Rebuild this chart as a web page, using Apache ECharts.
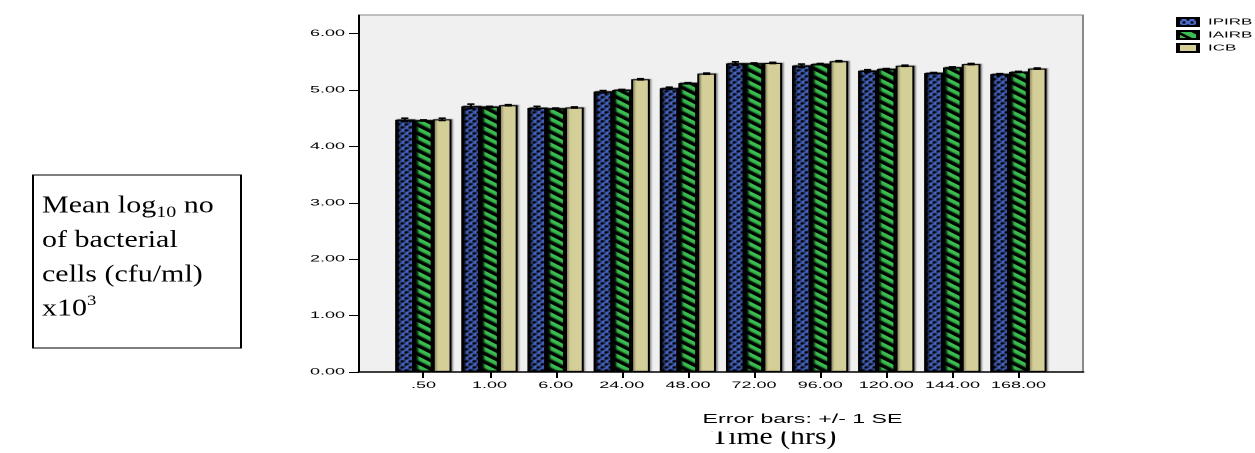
<!DOCTYPE html>
<html>
<head>
<meta charset="utf-8">
<script src="https://cdn.jsdelivr.net/npm/echarts@6.0.0/dist/echarts.min.js"></script>
<style>
  html, body { margin: 0; padding: 0; background: #ffffff; overflow: hidden; }
  #wrap { width: 1255px; height: 453px; overflow: hidden; position: relative; }
  #chart { width: 627.5px; height: 453px; transform: scaleX(2); transform-origin: 0 0; position: absolute; left: 0; top: 0; }
</style>
</head>
<body>
<div id="wrap"><div id="chart"></div></div>
<script>
// ---------------- data ----------------
const timeLabels = ['.50', '1.00', '6.00', '24.00', '48.00', '72.00', '96.00', '120.00', '144.00', '168.00'];
const seriesNames = ['IPIRB', 'IAIRB', 'ICB'];
const ipirb = [4.47, 4.71, 4.68, 4.97, 5.03, 5.47, 5.43, 5.34, 5.30, 5.28];
const iairb = [4.46, 4.70, 4.67, 5.00, 5.12, 5.47, 5.46, 5.37, 5.40, 5.32];
const icb   = [4.48, 4.73, 4.69, 5.19, 5.29, 5.48, 5.51, 5.43, 5.46, 5.38];
const ipirbSE = [0.03, 0.04, 0.03, 0.02, 0.02, 0.03, 0.03, 0.02, 0.01, 0.01];
const iairbSE = [0.01, 0.01, 0.01, 0.01, 0.01, 0.01, 0.01, 0.01, 0.01, 0.01];
const icbSE   = [0.02, 0.01, 0.01, 0.01, 0.01, 0.01, 0.01, 0.01, 0.01, 0.01];
const yTicks = [0, 1, 2, 3, 4, 5, 6];

// ---------------- layout helpers ----------------
const S = 2;                    // horizontal stretch applied via CSS
const X = v => v / S;           // reference px -> chart px (horizontal)
const BAR_W = X(18.7);
const SANS = '"Liberation Sans", Arial, sans-serif';
const SERIF = '"Liberation Serif", "Times New Roman", serif';

const values = [ipirb, iairb, icb];
const ses = [ipirbSE, iairbSE, icbSE];
const colors = ['#4a6acb', '#3abd50', '#d4ce99'];
const decals = [
  { symbol: 'rect', symbolSize: 0.72, color: '#000000', dashArrayX: [[2, 2], [0, 2, 2, 0]], dashArrayY: [3, 0, 3, 0], rotation: 0 },
  { symbol: 'rect', symbolSize: 1, color: '#000000', dashArrayX: [1, 0], dashArrayY: [1.25, 3.45], rotation: Math.PI / 4 },
  null
];

const measure = (() => {
  const c = document.createElement('canvas').getContext('2d');
  return (t, font) => { c.font = font; return c.measureText(t).width; };
})();

function txt(refX, refY, text, size, family, stretch, align, z) {
  return {
    type: 'text', x: X(refX), y: refY, scaleX: stretch / S, z: z || 10,
    style: {
      text: text, fontSize: size, fontFamily: family, fill: '#000',
      align: align || 'left', verticalAlign: 'middle',
      textAlign: align || 'left', textVerticalAlign: 'middle'
    }
  };
}

// ---- left label box (document text) ----
const BOX_STRETCH = 1.25;
const F = 24;
const graphics = [];
graphics.push({ type: 'rect', z: 5, shape: { x: X(33), y: 175, width: X(241 - 33), height: 173 },
  style: { fill: '#ffffff', stroke: '#000', lineWidth: 1 } });
const tx = 42;
const w1 = measure('Mean log', F + 'px ' + SERIF) * BOX_STRETCH;
const w2 = measure('10', '16px ' + SERIF) * BOX_STRETCH;
graphics.push(txt(tx, 206, 'Mean log', F, SERIF, BOX_STRETCH));
graphics.push(txt(tx + w1, 213, '10', 16, SERIF, BOX_STRETCH));
graphics.push(txt(tx + w1 + w2, 206, ' no', F, SERIF, BOX_STRETCH));
graphics.push(txt(tx, 240.5, 'of bacterial', F, SERIF, BOX_STRETCH));
graphics.push(txt(tx, 275, 'cells (cfu/ml)', F, SERIF, BOX_STRETCH));
const w3 = measure('x10', F + 'px ' + SERIF) * BOX_STRETCH;
graphics.push(txt(tx, 309, 'x10', F, SERIF, BOX_STRETCH));
graphics.push(txt(tx + w3, 301, '3', 15, SERIF, BOX_STRETCH));

// ---- footnote and axis title ----
graphics.push(txt(802.5, 419.5, 'Error bars: +/- 1 SE', 12.5, SANS, 1.85, 'center'));
graphics.push(txt(773.7, 437.5, 'Time (hrs)', 24, SERIF, 1.24, 'center', 10));
graphics.push({ type: 'rect', z: 20, shape: { x: X(700), y: 425.5, width: X(150), height: 6 },
  style: { fill: '#ffffff' } });

// ---------------- series ----------------
const series = [];
seriesNames.forEach((name, k) => {
  const itemStyle = {
    color: colors[k], borderColor: '#000', borderWidth: 1,
    shadowColor: 'rgba(0,0,0,0.35)', shadowBlur: 1, shadowOffsetX: 0.8, shadowOffsetY: -0.5
  };
  if (decals[k]) itemStyle.decal = decals[k];
  series.push({
    name: name, type: 'bar', barWidth: BAR_W, barGap: '0%', z: 2,
    data: timeLabels.map((_, i) => [i, values[k][i]]),
    itemStyle: itemStyle,
    emphasis: { disabled: true }
  });
});
seriesNames.forEach((name, k) => {
  series.push({
    name: name + ' SE', type: 'custom', z: 5, silent: true,
    encode: { x: 0, y: 1 },
    data: timeLabels.map((_, i) => [i, values[k][i], ses[k][i]]),
    renderItem: function (params, api) {
      const i = api.value(0), v = api.value(1), se = api.value(2);
      const c = api.coord([i, v]);
      const x = c[0] + (k - 1) * BAR_W;
      const yT = api.coord([i, v + se])[1];
      const yB = api.coord([i, v - se])[1];
      const hw = 1.8;
      return { type: 'group', children: [
        { type: 'line', shape: { x1: x, y1: yT, x2: x, y2: yB }, style: { stroke: '#000', lineWidth: 1 } },
        { type: 'line', shape: { x1: x - hw, y1: yT, x2: x + hw, y2: yT }, style: { stroke: '#000', lineWidth: 1.6 } },
        { type: 'line', shape: { x1: x - hw, y1: yB, x2: x + hw, y2: yB }, style: { stroke: '#000', lineWidth: 1.6 } }
      ]};
    }
  });
});

const chart = echarts.init(document.getElementById('chart'), null, { renderer: 'canvas', devicePixelRatio: 2 });
chart.setOption({
  animation: false,
  backgroundColor: '#ffffff',
  grid: {
    left: X(359), right: X(1255 - 1082), top: 15, bottom: 453 - 372,
    show: true, backgroundColor: '#f0f0f0', borderColor: '#8a8a8a', borderWidth: 1
  },
  legend: {
    data: seriesNames, orient: 'vertical', left: X(1176), top: 17, padding: 0,
    itemWidth: X(20), itemHeight: 8, itemGap: 3, icon: 'rect',
    textStyle: { fontSize: 8.5, fontFamily: SANS, color: '#000' },
    selectedMode: false
  },
  xAxis: {
    type: 'value', min: -0.975, max: 9.975,
    axisLine: { show: true, onZero: false, lineStyle: { color: '#000', width: 1.5 } },
    axisTick: { show: true, length: 6, lineStyle: { color: '#000', width: 1 }, customValues: timeLabels.map((_, i) => i) },
    axisLabel: { margin: 9, fontSize: 9, fontFamily: SANS, color: '#000',
      customValues: timeLabels.map((_, i) => i),
      formatter: v => timeLabels[Math.round(v)] },
    splitLine: { show: false }
  },
  yAxis: {
    type: 'value', min: 0, max: 6.33,
    axisLine: { show: true, onZero: false, lineStyle: { color: '#000', width: 1 } },
    axisTick: { show: true, length: 5, lineStyle: { color: '#000', width: 1 }, customValues: yTicks },
    axisLabel: { margin: 7, fontSize: 9, fontFamily: SANS, color: '#000',
      customValues: yTicks, formatter: v => Number(v).toFixed(2) },
    splitLine: { show: false }
  },
  graphic: graphics,
  series: series
});
</script>
</body>
</html>
